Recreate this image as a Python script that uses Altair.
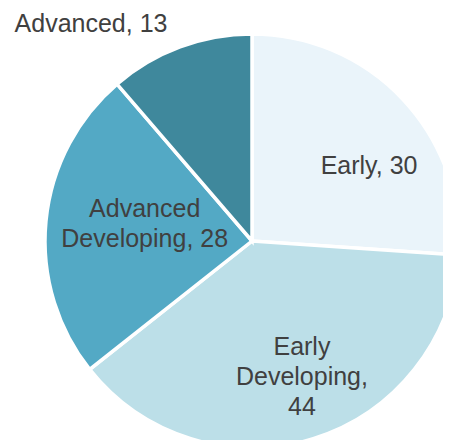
import altair as alt
import pandas as pd

categories = ["Early", "Early Developing", "Advanced Developing", "Advanced"]
values = [30, 44, 28, 13]
labels = ["Early, 30", "Early\nDeveloping,\n44", "Advanced\nDeveloping, 28", "Advanced, 13"]
colors = ["#EAF4FA", "#BCDFE8", "#53A9C5", "#3F889C"]

# label placement styles for the first text line
# (angle shift from slice middle in degrees, radius px)
label_shift_deg = [10.4, -8.05, 11.15, -16.25]
label_radius = [139, 117, 112, 270]

df = pd.DataFrame({
    "category": categories,
    "value": values,
    "label": labels,
    "idx": list(range(len(categories))),
    "shift": label_shift_deg,
    "lr": label_radius,
})

CX, CY, R = 244, 233, 207

base = alt.Chart(df)

arcs = base.mark_arc(outerRadius=R, stroke="white", strokeWidth=3.5).encode(
    theta=alt.Theta("value:Q", stack=True),
    order=alt.Order("idx:Q"),
    color=alt.Color("category:N", scale=alt.Scale(domain=categories, range=colors), legend=None),
    x=alt.value(CX),
    y=alt.value(CY),
)

text = base.transform_joinaggregate(
    total="sum(value)"
).transform_window(
    cum="sum(value)", sort=[alt.SortField("idx")]
).transform_calculate(
    ang="((datum.cum - datum.value/2) / datum.total) * 2 * PI + datum.shift * PI / 180"
).mark_text(
    font="Liberation Sans", fontSize=25, color="#404040", lineBreak="\n", lineHeight=30,
    align="center", baseline="middle",
).encode(
    theta=alt.Theta("ang:Q", scale=None),
    radius=alt.Radius("lr:Q", scale=None),
    text="label:N",
    x=alt.value(CX),
    y=alt.value(CY),
)

chart = alt.layer(arcs, text).properties(
    width=435, height=432, autosize=alt.AutoSizeParams(type="none"), padding=0,
    background="white",
).configure_view(stroke=None)

chart.save("out.html", embed_options={"renderer": "svg", "actions": False})
